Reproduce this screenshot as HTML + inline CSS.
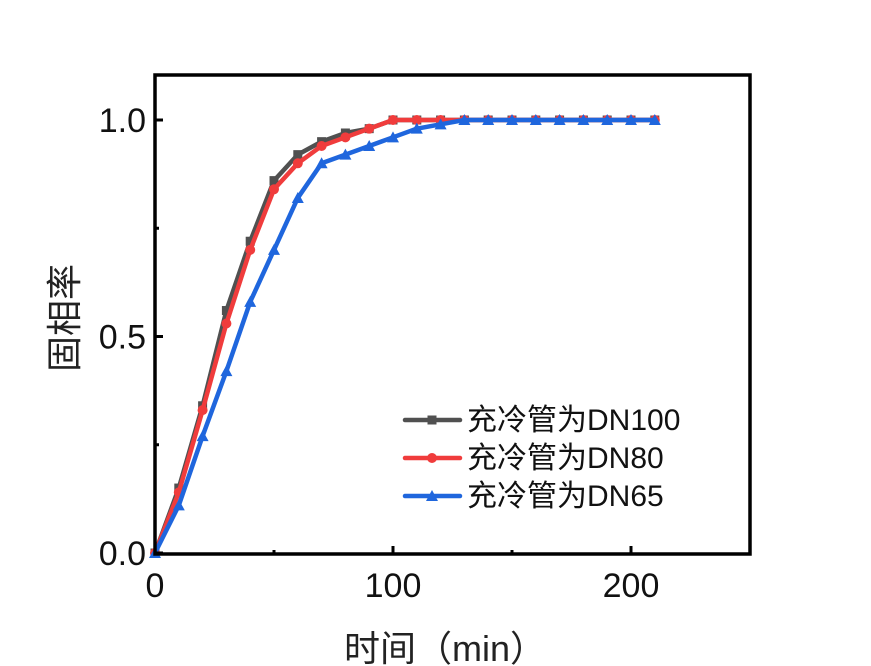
<!DOCTYPE html>
<html><head><meta charset="utf-8"><style>
body{margin:0;background:#fff}
svg{display:block;font-family:"Liberation Sans","Noto Sans CJK SC",sans-serif}
</style></head><body>
<svg id="chart" width="871" height="666" viewBox="0 0 871 666" xmlns="http://www.w3.org/2000/svg">
<g id="series"></g>
<rect x="155" y="75" width="595" height="479" fill="none" stroke="#000" stroke-width="3.5"/>
<g id="axes"></g>
<text transform="translate(77,318) rotate(-90)" font-size="36" text-anchor="middle" fill="#222">固相率</text>
<text x="445" y="661" font-size="36" text-anchor="middle" fill="#222">时间（min）</text>
<g id="legend"></g>
</svg>
<script>
const times=[0,10,20,30,40,50,60,70,80,90,100,110,120,130,140,150,160,170,180,190,200,210];
const dn100=[0,0.15,0.34,0.56,0.72,0.86,0.92,0.95,0.97,0.98,1.0,1.0,1.0,1.0,1.0,1.0,1.0,1.0,1.0,1.0,1.0,1.0];
const dn80=[0,0.14,0.33,0.53,0.70,0.84,0.90,0.94,0.96,0.98,1.0,1.0,1.0,1.0,1.0,1.0,1.0,1.0,1.0,1.0,1.0,1.0];
const dn65=[0,0.11,0.27,0.42,0.58,0.70,0.82,0.90,0.92,0.94,0.96,0.98,0.99,1.0,1.0,1.0,1.0,1.0,1.0,1.0,1.0,1.0];
const xTicks=[0,100,200];
const xMinor=[50,150,250];
const yTicks=[0,0.5,1.0];
const yTickLabels=["0.0","0.5","1.0"];
const yMinor=[0.25,0.75];
const seriesNames=["充冷管为DN100","充冷管为DN80","充冷管为DN65"];
const NS="http://www.w3.org/2000/svg";
const X=v=>155+v*2.38;
const Y=v=>553-v*433;
function mk(t,a,p){const e=document.createElementNS(NS,t);for(const k in a)e.setAttribute(k,a[k]);p.appendChild(e);return e;}
const axes=document.getElementById('axes');
xTicks.forEach(v=>{
 const l=mk('line',{x1:X(v),x2:X(v),y1:554,y2:546,stroke:'#000','stroke-width':3},axes);
 
 
 const t=mk('text',{x:X(v),y:597,'font-size':34,'text-anchor':'middle',fill:'#111'},axes);
 t.textContent=v;
 
 
});
xMinor.forEach(v=>{
 const l=mk('line',{x1:X(v),x2:X(v),y1:554,y2:550,stroke:'#000','stroke-width':3},axes);
 
 
});
yTicks.forEach((v,i)=>{
 const l=mk('line',{x1:155,x2:163,y1:Y(v),y2:Y(v),stroke:'#000','stroke-width':3},axes);
 
 
 const t=mk('text',{x:146,y:Y(v)+12,'font-size':34,'text-anchor':'end',fill:'#111'},axes);
 t.textContent=yTickLabels[i];
 
 
});
yMinor.forEach(v=>{
 const l=mk('line',{x1:155,x2:159,y1:Y(v),y2:Y(v),stroke:'#000','stroke-width':3},axes);
 
 
});
function marker(shape,cx,cy,color,g){
 if(shape==='sq')return mk('rect',{x:cx-4.5,y:cy-4.5,width:9,height:9,fill:color},g);
 if(shape==='ci')return mk('circle',{cx:cx,cy:cy,r:5,fill:color},g);
 return mk('polygon',{points:`${cx},${cy-6} ${cx+6},${cy+5} ${cx-6},${cy+5}`,fill:color},g);
}
const sg=document.getElementById('series');
const defs=[[dn100,'#505050','sq','series-dn100'],[dn80,'#f03c3c','ci','series-dn80'],[dn65,'#1f66dd','tr','series-dn65']];
defs.forEach(([d,c,s,n])=>{
 const g=mk('g',{},sg);
 
 
 const pl=mk('polyline',{points:d.map((v,i)=>X(times[i])+','+Y(v)).join(' '),fill:'none',stroke:c,'stroke-width':4.5,'stroke-linejoin':'round'},g);
 
 
 d.forEach((v,i)=>{
  const m=marker(s,X(times[i]),Y(v),c,g);
  
  
 });
});
const lg=document.getElementById('legend');


defs.forEach(([d,c,s,n],i)=>{
 const y=420+i*38;
 const g=mk('g',{},lg);
 
 
 mk('line',{x1:405,x2:460,y1:y,y2:y,stroke:c,'stroke-width':4.5,'stroke-linecap':'round'},g);
 marker(s,432,y,c,g);
 const t=mk('text',{x:467,y:y+10,'font-size':30,fill:'#111'},g);
 t.textContent=seriesNames[i];
});
</script>
</body></html>
